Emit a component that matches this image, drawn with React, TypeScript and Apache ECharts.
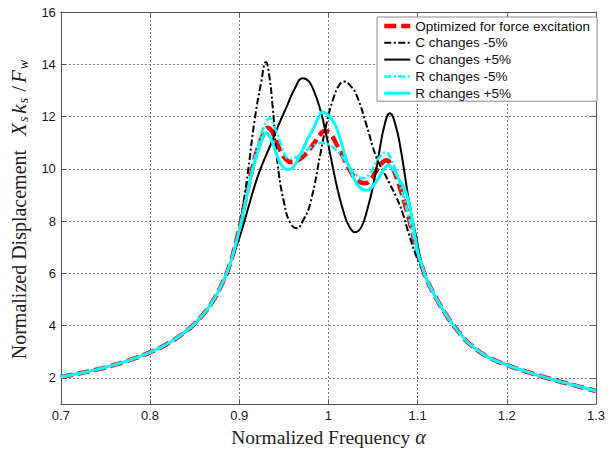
import React, { useEffect, useRef } from "react";
import * as echarts from "echarts";

const xTicks = [0.7, 0.8, 0.9, 1.0, 1.1, 1.2, 1.3];
const yTicks = [2, 4, 6, 8, 10, 12, 14, 16];

const seriesNames = [
  "Optimized for force excitation",
  "C changes -5%",
  "C changes +5%",
  "R changes -5%",
  "R changes +5%",
];

// shared low-frequency and high-frequency tails
const tailLeft: [number, number][] = [
  [0.7, 2.04], [0.72, 2.17], [0.74, 2.32], [0.76, 2.5], [0.78, 2.72], [0.8, 2.98],
  [0.82, 3.32], [0.84, 3.78], [0.85, 4.08], [0.86, 4.45], [0.87, 4.92], [0.88, 5.55],
  [0.89, 6.4],
];
const tailRight: [number, number][] = [
  [1.11, 5.78], [1.12, 5.1], [1.13, 4.52], [1.14, 4.02], [1.15, 3.6], [1.16, 3.25],
  [1.18, 2.78], [1.2, 2.5], [1.22, 2.26], [1.24, 2.05], [1.26, 1.86], [1.28, 1.68],
  [1.3, 1.5],
];

const optimizedMid: [number, number][] = [
  [0.9, 7.7], [0.905, 8.5], [0.91, 9.3], [0.915, 10.05], [0.92, 10.7], [0.926, 11.25],
  [0.932, 11.57], [0.938, 11.35], [0.946, 10.7], [0.952, 10.38], [0.958, 10.26],
  [0.965, 10.32], [0.972, 10.48], [0.984, 10.98], [0.99, 11.28], [0.996, 11.45],
  [1.002, 11.35], [1.009, 10.95], [1.017, 10.42], [1.024, 9.95], [1.032, 9.58],
  [1.041, 9.45], [1.048, 9.62], [1.054, 9.95], [1.06, 10.22], [1.065, 10.33],
  [1.071, 10.1], [1.076, 9.7], [1.08, 9.3], [1.087, 8.5], [1.094, 7.58], [1.1, 6.75],
  [1.105, 6.25],
];
const cMinusMid: [number, number][] = [
  [0.9, 7.7], [0.905, 8.75], [0.91, 9.95], [0.917, 11.8], [0.9245, 13.3], [0.93, 14.09],
  [0.9335, 13.6], [0.9373, 12.44], [0.943, 10.2], [0.9503, 8.7], [0.957, 7.95],
  [0.9643, 7.73], [0.972, 8.05], [0.9798, 8.7], [0.991, 10.57], [0.998, 11.75],
  [1.0055, 12.69], [1.012, 13.2], [1.0175, 13.34], [1.024, 13.2], [1.0315, 12.82],
  [1.0425, 11.69], [1.0536, 10.45], [1.061, 9.95], [1.0684, 9.45], [1.0758, 8.94],
  [1.083, 8.33], [1.0906, 7.46], [1.098, 6.71], [1.104, 6.25],
];
const cPlusMid: [number, number][] = [
  [0.9, 7.35], [0.905, 7.9], [0.91, 8.5], [0.917, 9.32], [0.925, 10.1], [0.9355, 10.95],
  [0.945, 11.75], [0.954, 12.44], [0.962, 13.05], [0.9713, 13.47], [0.978, 13.35],
  [0.984, 12.95], [0.9904, 12.32], [0.995, 11.7], [1.0, 10.9], [1.005, 10.05],
  [1.01, 9.25], [1.017, 8.35], [1.023, 7.82], [1.03, 7.58], [1.037, 7.78], [1.044, 8.5],
  [1.05, 9.33], [1.056, 10.45], [1.063, 11.69], [1.069, 12.13], [1.075, 11.7],
  [1.0813, 10.7], [1.0906, 8.7], [1.098, 7.46], [1.104, 6.45],
];
const rMinusMid: [number, number][] = [
  [0.9, 7.65], [0.905, 8.45], [0.91, 9.25], [0.915, 10.05], [0.92, 10.75], [0.927, 11.55],
  [0.9337, 11.94], [0.94, 11.55], [0.9466, 10.95], [0.951, 10.55], [0.9558, 10.38],
  [0.962, 10.42], [0.9724, 10.64], [0.9835, 10.89], [0.9927, 11.0], [1.0, 10.93],
  [1.009, 10.7], [1.017, 10.4], [1.024, 10.07], [1.031, 9.78], [1.039, 9.64],
  [1.047, 9.85], [1.0536, 10.26], [1.059, 10.52], [1.064, 10.64], [1.07, 10.4],
  [1.076, 9.9], [1.082, 9.2], [1.088, 8.45], [1.094, 7.6], [1.1, 6.75], [1.105, 6.25],
];
const rPlusMid: [number, number][] = [
  [0.9, 7.65], [0.905, 8.4], [0.91, 9.2], [0.915, 9.95], [0.92, 10.55], [0.925, 11.05],
  [0.93, 11.38], [0.936, 11.1], [0.943, 10.45], [0.948, 10.12], [0.954, 9.97],
  [0.96, 10.05], [0.9687, 10.57], [0.976, 11.1], [0.9835, 11.57], [0.9885, 11.95],
  [0.9938, 12.17], [1.0, 12.05], [1.0075, 11.69], [1.014, 11.05], [1.0204, 10.33],
  [1.026, 9.85], [1.0315, 9.45], [1.037, 9.24], [1.0425, 9.18], [1.05, 9.35],
  [1.0573, 9.7], [1.063, 10.02], [1.0666, 10.14], [1.073, 9.95], [1.08, 9.55],
  [1.085, 9.25], [1.09, 8.75], [1.095, 7.85], [1.1, 6.85], [1.105, 6.28],
];

const mids = [optimizedMid, cMinusMid, cPlusMid, rMinusMid, rPlusMid];
const colors = ["#ff0000", "#000000", "#000000", "#00ffff", "#00ffff"];
const widths = [4.5, 2, 2, 2.5, 3];
const dashes: (number[] | string)[] = [[12, 5], [7, 2.5, 2, 2.5], "solid", [7, 2.5, 2, 2.5], "solid"];

const sans = "'Liberation Sans', Arial, Helvetica, sans-serif";
const serif = "'Liberation Serif', 'Times New Roman', serif";

export default function App() {
  const ref = useRef<HTMLDivElement>(null);
  useEffect(() => {
    if (!ref.current) return;
    const chart = echarts.init(ref.current, undefined, { renderer: "svg" });
    const axisLineStyle = { color: "#555", width: 1 };
    const tickStyle = { color: "#555", width: 1 };
    const gridLine = { color: "#7a7a7a", width: 1, type: [2, 2] as number[] };
    const ink = "#222";
    const option: any = {
      animation: false,
      backgroundColor: "#fff",
      grid: { left: 54, right: 17, top: 12, bottom: 39, containLabel: false },
      legend: {
        orient: "vertical",
        left: 377,
        top: 17,
        itemWidth: 26,
        itemHeight: 14,
        itemGap: 2.8,
        padding: [2, 7, 1, 5],
        backgroundColor: "#fff",
        borderColor: "#8c8c8c",
        borderWidth: 1,
        borderRadius: 0,
        itemStyle: { opacity: 0 },
        lineStyle: { width: "inherit" },
        textStyle: { fontFamily: sans, fontSize: 13.5, color: "#111", lineHeight: 14 },
        data: seriesNames,
      },
      xAxis: [
        {
          type: "value",
          min: 0.7,
          max: 1.3,
          position: "bottom",
          name: "{n|Normalized Frequency }{a|α}",
          nameLocation: "middle",
          nameGap: 15,
          nameTextStyle: {
            fontFamily: serif,
            fontSize: 19.5,
            color: ink,
            rich: {
              n: { fontFamily: serif, fontSize: 19.5, color: ink },
              a: { fontFamily: serif, fontSize: 20, fontStyle: "italic", color: ink },
            },
          },
          axisLine: { show: true, onZero: false, lineStyle: axisLineStyle },
          axisTick: { show: true, inside: true, length: 5, lineStyle: tickStyle, customValues: xTicks },
          axisLabel: {
            margin: 5,
            fontFamily: sans,
            fontSize: 13,
            color: "#1a1a1a",
            customValues: xTicks,
            formatter: (v: number) => String(Math.round(v * 10) / 10),
          },
          splitLine: { show: true, lineStyle: gridLine },
        },
        {
          type: "value",
          min: 0.7,
          max: 1.3,
          position: "top",
          axisLine: { show: true, onZero: false, lineStyle: axisLineStyle },
          axisTick: { show: true, inside: true, length: 5, lineStyle: tickStyle, customValues: xTicks },
          axisLabel: { show: false },
          splitLine: { show: false },
        },
      ],
      yAxis: [
        {
          type: "value",
          min: 1,
          max: 16,
          position: "left",
          name: "{n|Normalized Displacement}{m|X}{s|s}{m|k}{s|s}{sl|/}{m|F}{s|w}",
          nameLocation: "middle",
          nameRotate: 90,
          nameGap: 26,
          nameTextStyle: {
            fontFamily: serif,
            fontSize: 20,
            color: ink,
            rich: {
              n: { fontFamily: serif, fontSize: 20, color: ink, lineHeight: 24, padding: [0, 14, 0, 0] },
              m: { fontFamily: serif, fontSize: 21, fontStyle: "italic", color: ink, lineHeight: 24 },
              sl: { fontFamily: serif, fontSize: 21, color: ink, lineHeight: 24, padding: [0, 3, 0, 3] },
              s: {
                fontFamily: serif,
                fontSize: 14,
                fontStyle: "italic",
                color: ink,
                lineHeight: 14,
                verticalAlign: "bottom",
                padding: [0, 3, 0, 1],
              },
            },
          },
          axisLine: { show: true, onZero: false, lineStyle: axisLineStyle },
          axisTick: { show: true, inside: true, length: 5, lineStyle: tickStyle, customValues: yTicks },
          axisLabel: {
            margin: 5,
            fontFamily: sans,
            fontSize: 13,
            color: "#1a1a1a",
            customValues: yTicks,
          },
          splitLine: { show: true, lineStyle: gridLine },
        },
        {
          type: "value",
          min: 1,
          max: 16,
          position: "right",
          axisLine: { show: true, onZero: false, lineStyle: axisLineStyle },
          axisTick: { show: true, inside: true, length: 5, lineStyle: tickStyle, customValues: yTicks },
          axisLabel: { show: false },
          splitLine: { show: false },
        },
      ],
      series: seriesNames.map((name, i) => ({
        name,
        type: "line",
        xAxisIndex: 0,
        yAxisIndex: 0,
        data: [...tailLeft, ...mids[i], ...tailRight],
        smooth: 0.5,
        symbol: "none",
        showSymbol: false,
        lineStyle: { color: colors[i], width: widths[i], type: dashes[i], join: "round" },
        itemStyle: { color: colors[i] },
        z: 2 + i,
      })),
    };
    chart.setOption(option);
    return () => chart.dispose();
  }, []);
  return <div ref={ref} style={{ width: 613, height: 452, position: "absolute", left: 0, top: 0 }} />;
}
